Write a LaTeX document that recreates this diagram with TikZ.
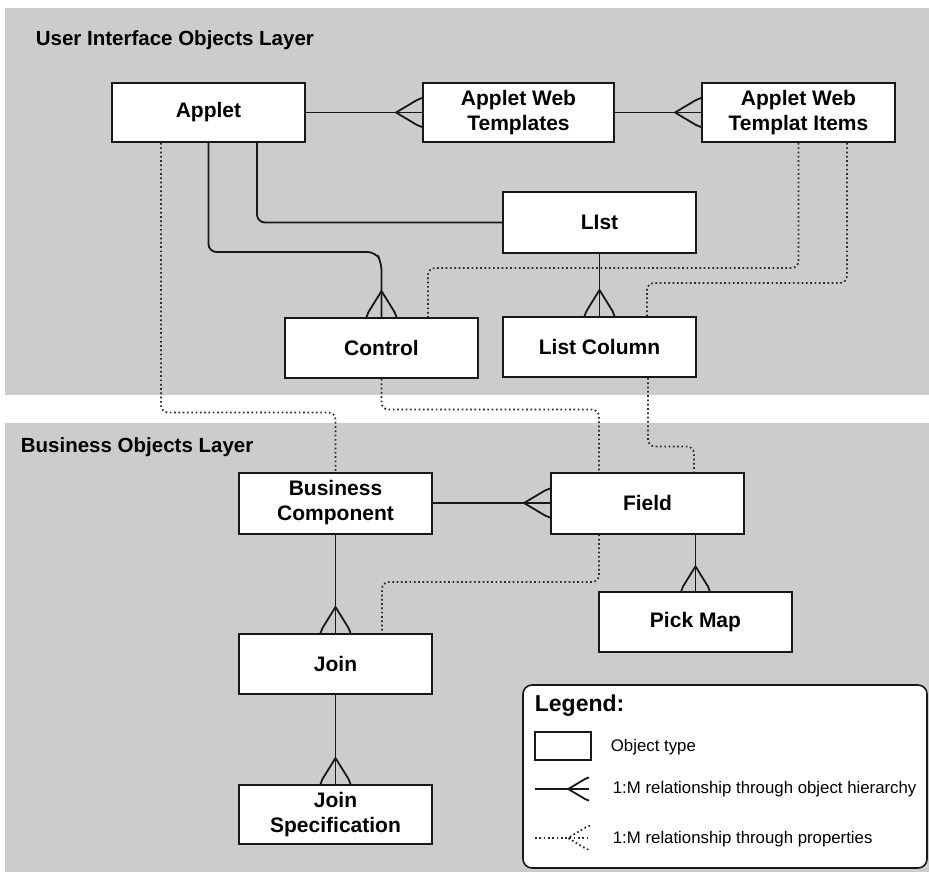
\documentclass[tikz,border=0pt]{standalone}
\usepackage{fontspec}
\setmainfont{Liberation Sans}
\definecolor{bandgray}{RGB}{204,204,204}
\definecolor{inkline}{RGB}{24,24,24}
\definecolor{dotline}{RGB}{45,45,45}
\begin{document}
\begin{tikzpicture}[x=1pt,y=-1pt,
  line width=1.8pt,
  band/.style={fill=bandgray,draw=none},
  objbox/.style={draw=inkline,fill=white,line width=2pt,minimum width=193pt,
    minimum height=60pt,inner sep=0pt,align=center,
    font=\fontsize{21}{25}\selectfont\bfseries},
  layertitle/.style={anchor=base west,inner sep=0pt,
    font=\fontsize{20.5}{24}\selectfont\bfseries},
  rel/.style={draw=inkline,line width=1.8pt,rounded corners=8pt},
  prop/.style={draw=dotline,line width=1.7pt,dash pattern=on 1.7pt off 2.6pt,
    rounded corners=7pt},
  legendtext/.style={anchor=west,inner sep=0pt,font=\fontsize{16.8}{20}\selectfont},
  footN/.pic={\draw[line join=round,rounded corners=0pt] (-15,0) -- (-13,-5) -- (0,-26) -- (13,-5) -- (15,0);},
  footW/.pic={\draw[line join=round,rounded corners=0pt] (0,-14.5) -- (-5,-12.5) -- (-26,0) -- (-5,12.5) -- (0,14.5);}
]
\useasboundingbox (0,0) rectangle (929,872);

% layer bands
\fill[band] (5,8) rectangle (929,395);
\fill[band] (5,423) rectangle (929,872);
\node[layertitle] (uititle) at (35,46) {User Interface Objects Layer};
\node[layertitle] (botitle) at (20,452) {Business Objects Layer};

% object types
\node[objbox,minimum height=59pt] (applet)   at (208.5,112.5) {Applet};
\node[objbox,minimum height=59pt,minimum width=191pt] (awt) at (518.5,112.5) {Applet Web\\Templates};
\node[objbox,minimum height=59pt] (awti)     at (798.5,112.5) {Applet Web\\Templat Items};
\node[objbox,minimum height=61pt] (list)     at (599.5,222.5) {LIst};
\node[objbox] (control)  at (381.5,348) {Control};
\node[objbox] (listcol)  at (599.5,347) {List Column};
\node[objbox,minimum height=61pt] (bc) at (335.5,503) {Business\\Component};
\node[objbox,minimum height=61pt] (field)    at (647.5,503) {Field};
\node[objbox] (pickmap)  at (695.5,622) {Pick Map};
\node[objbox] (join)     at (335.5,664) {Join};
\node[objbox,minimum height=59pt] (joinspec) at (335.5,814.5) {Join\\Specification};

% relationships through properties
\draw[prop] ([xshift=-47.5pt]applet.south) |- ([yshift=59pt]bc.north) -- (bc.north);
\draw[prop] (control.south) |- ([xshift=-48.5pt,yshift=62pt]field.north)
  -- ([xshift=-48.5pt]field.north);
\draw[prop] ([xshift=-48.5pt]field.south) |- ([xshift=46.5pt,yshift=51pt]join.north)
  -- ([xshift=46.5pt]join.north);
\draw[prop] ([xshift=48.5pt]listcol.south) |- ([xshift=46.5pt,yshift=25pt]field.north)
  -- ([xshift=46.5pt]field.north);
\draw[prop] (awti.south) |- ([xshift=46.5pt,yshift=49pt]control.north)
  -- ([xshift=46.5pt]control.north);
\draw[prop] ([xshift=48.5pt]awti.south) |- ([xshift=47.5pt,yshift=33pt]listcol.north)
  -- ([xshift=47.5pt]listcol.north);

% relationships through the object hierarchy
\draw[rel] (applet.east) -- (awt.west);
\pic[rel] at (awt.west) {footW};
\draw[rel] (awt.east) -- (awti.west);
\pic[rel] at (awti.west) {footW};
\draw[rel] ([xshift=48.5pt]applet.south) |- (list.west);
\draw[rel] (applet.south) |- ([xshift=-6pt,yshift=65pt]control.north)
  -- ([yshift=55pt]control.north) -- (control.north);
\pic[rel] at (control.north) {footN};
\draw[rel] (list.south) -- (listcol.north);
\pic[rel] at (listcol.north) {footN};
\draw[rel] (bc.east) -- (field.west);
\pic[rel] at (field.west) {footW};
\draw[rel] (field.south -| pickmap.north) -- (pickmap.north);
\pic[rel,scale=0.95] at (pickmap.north) {footN};
\draw[rel] (bc.south) -- (join.north);
\pic[rel] at (join.north) {footN};
\draw[rel] (join.south) -- (joinspec.north);
\pic[rel] at (joinspec.north) {footN};

% legend
\node[draw=inkline,fill=white,line width=1.6pt,rounded corners=9pt,
  minimum width=404pt,minimum height=183pt,inner sep=0pt] (legend) at (725,776.5) {};
\node[anchor=base west,inner sep=0pt,font=\fontsize{23}{27}\selectfont\bfseries]
  (legendtitle) at (534,711) {Legend:};
\node[draw=inkline,fill=white,line width=1.6pt,minimum width=56pt,minimum height=28pt,
  inner sep=0pt] (sample) at (563,746) {};
\node[legendtext] (objtext) at (610,747) {Object type};
\coordinate (hierstart) at (535,789);
\coordinate (hierend) at (589,789);
\draw[rel] (hierstart) -- (hierend);
\pic[rel,scale=0.8] at (hierend) {footW};
\node[legendtext] (hiertext) at (612,789) {1:M relationship through object hierarchy};
\coordinate (propstart) at (535,838);
\coordinate (propend) at (590,838);
\draw[prop] (propstart) -- (propend);
\pic[prop,scale=0.85] at (propend) {footW};
\node[legendtext] (proptext) at (612,839) {1:M relationship through properties};
\end{tikzpicture}
\end{document}
